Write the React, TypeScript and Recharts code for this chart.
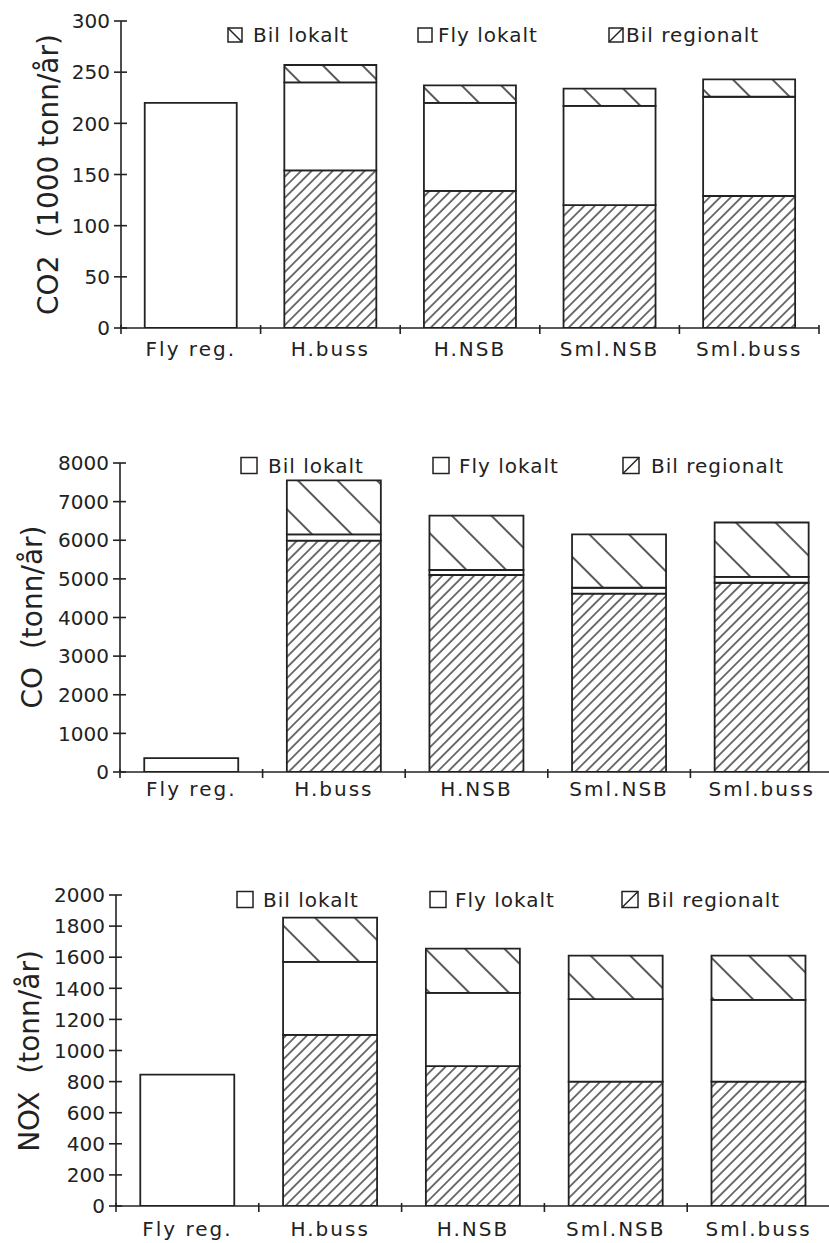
import React from 'react';
import { BarChart, Bar, XAxis, YAxis } from 'recharts';

const INK = '#222';
const FONT = '"DejaVu Sans", "Noto Sans", sans-serif';

// ---------- data ----------
const categories = ['Fly reg.', 'H.buss', 'H.NSB', 'Sml.NSB', 'Sml.buss'];
const legendLabels = ['Bil lokalt', 'Fly lokalt', 'Bil regionalt'];

const co2FlyRegionalt = [220, null, null, null, null];
const co2BilRegionalt = [null, 154, 134, 120, 129];
const co2FlyLokalt = [null, 86, 86, 97, 97];
const co2BilLokalt = [null, 17, 17, 17, 17];
const co2Ticks = [0, 50, 100, 150, 200, 250, 300];
const co2Title = 'CO2  (1000 tonn/år)';

const coFlyRegionalt = [360, null, null, null, null];
const coBilRegionalt = [null, 5990, 5100, 4620, 4900];
const coFlyLokalt = [null, 160, 130, 150, 150];
const coBilLokalt = [null, 1400, 1405, 1380, 1410];
const coTicks = [0, 1000, 2000, 3000, 4000, 5000, 6000, 7000, 8000];
const coTitle = 'CO  (tonn/år)';

const noxFlyRegionalt = [845, null, null, null, null];
const noxBilRegionalt = [null, 1100, 900, 800, 800];
const noxFlyLokalt = [null, 470, 470, 530, 525];
const noxBilLokalt = [null, 285, 285, 280, 285];
const noxTicks = [0, 200, 400, 600, 800, 1000, 1200, 1400, 1600, 1800, 2000];
const noxTitle = 'NOX  (tonn/år)';

const buildRows = (fr: any[], br: any[], fl: any[], bl: any[]) =>
  categories.map((name, i) => ({
    name,
    flyRegionalt: fr[i],
    bilRegionalt: br[i],
    flyLokalt: fl[i],
    bilLokalt: bl[i],
  }));

const co2Rows = buildRows(co2FlyRegionalt, co2BilRegionalt, co2FlyLokalt, co2BilLokalt);
const coRows = buildRows(coFlyRegionalt, coBilRegionalt, coFlyLokalt, coBilLokalt);
const noxRows = buildRows(noxFlyRegionalt, noxBilRegionalt, noxFlyLokalt, noxBilLokalt);

// ---------- layout ----------
const panels = [
  {
    rows: co2Rows, ticks: co2Ticks, title: co2Title,
    top: 0, width: 829, height: 380, yAxisWidth: 121, xAxisHeight: 40,
    margin: { top: 21, right: 10, left: 0, bottom: 12 },
    labelOffset: 21,
    titleX: 48, titleY: 174.5,
    legendY: 35, iconSize: 14,
    iconX: [228, 418, 609], textX: [253, 438, 626],
    iconKinds: ['back', 'none', 'slash'],
  },
  {
    rows: coRows, ticks: coTicks, title: coTitle,
    top: 440, width: 840, height: 400, yAxisWidth: 120, xAxisHeight: 40,
    margin: { top: 23, right: 7, left: 0, bottom: 28 },
    labelOffset: 17,
    titleX: 32, titleY: 617,
    legendY: 465.5, iconSize: 16,
    iconX: [241, 433, 623], textX: [268, 459, 651],
    iconKinds: ['none', 'none', 'slash'],
  },
  {
    rows: noxRows, ticks: noxTicks, title: noxTitle,
    top: 860, width: 840, height: 383, yAxisWidth: 116, xAxisHeight: 30,
    margin: { top: 35, right: 10, left: 0, bottom: 7 },
    labelOffset: 23,
    titleX: 29, titleY: 1051,
    legendY: 899.5, iconSize: 16,
    iconX: [237, 430, 622], textX: [263, 455, 647],
    iconKinds: ['none', 'none', 'slash'],
  },
];

// ---------- ticks ----------
const renderYTick = (props: any) => {
  const { x, y, payload } = props;
  return (
    <g>
      <line x1={x - 7} x2={x + 6} y1={y} y2={y} stroke={INK} strokeWidth={1.6} />
      <text x={x - 11} y={y} dy="0.36em" textAnchor="end" fontSize={20}
        fontFamily={FONT} fill={INK}>{payload.value}</text>
    </g>
  );
};

const makeXTick = (labelOffset: number, halfBand: number) => (props: any) => {
  const { x, y, payload, index } = props;
  const idx = typeof index === 'number' ? index : categories.indexOf(payload.value);
  return (
    <g>
      {idx === 0 && (
        <line x1={x - halfBand} x2={x - halfBand} y1={y - 3} y2={y + 6} stroke={INK} strokeWidth={1.6} />
      )}
      <line x1={x + halfBand} x2={x + halfBand} y1={y - 3} y2={y + 6} stroke={INK} strokeWidth={1.6} />
      <text x={x} y={y + labelOffset} dy="0.36em" textAnchor="middle" fontSize={20}
        fontFamily={FONT} fill={INK} letterSpacing={2}>
        {payload.value}
      </text>
    </g>
  );
};

const Patterns = () => (
  <svg width={0} height={0} style={{ position: 'absolute' }}>
    <defs>
      <pattern id="hatchFine" patternUnits="userSpaceOnUse" width={7.5} height={7.5}
        patternTransform="rotate(45)">
        <rect width={7.5} height={7.5} fill="#fff" />
        <line x1={3.75} y1={-1} x2={3.75} y2={8.5} stroke="#444" strokeWidth={1.5} />
      </pattern>
      <pattern id="hatchCoarse" patternUnits="userSpaceOnUse" width={28} height={28}
        patternTransform="rotate(-45)">
        <rect width={28} height={28} fill="#fff" />
        <line x1={14} y1={-1} x2={14} y2={29} stroke={INK} strokeWidth={1.5} />
      </pattern>
    </defs>
  </svg>
);

const LegendIcon = ({ x, cy, size, kind }: any) => {
  const y = cy - size / 2;
  return (
    <g>
      <rect x={x} y={y} width={size} height={size} fill="#fff" stroke={INK} strokeWidth={1.5} />
      {kind === 'back' && <line x1={x} y1={y} x2={x + size} y2={y + size} stroke={INK} strokeWidth={1.5} />}
      {kind === 'slash' && <line x1={x} y1={y + size} x2={x + size} y2={y} stroke={INK} strokeWidth={1.5} />}
    </g>
  );
};

const Panel = ({ p }: any) => {
  const yMax = p.ticks[p.ticks.length - 1];
  const plotWidth = p.width - p.margin.left - p.margin.right - p.yAxisWidth;
  const halfBand = plotWidth / categories.length / 2;
  const barProps = { stackId: 's', stroke: INK, strokeWidth: 1.8, isAnimationActive: false };
  return (
    <div style={{ position: 'absolute', left: 0, top: p.top, width: p.width, height: p.height }}>
      <BarChart width={p.width} height={p.height} data={p.rows} margin={p.margin} barCategoryGap="17%">
        <XAxis dataKey="name" type="category" interval={0} tick={makeXTick(p.labelOffset, halfBand)}
          tickLine={false} tickSize={0} tickMargin={0} height={p.xAxisHeight}
          axisLine={{ stroke: INK, strokeWidth: 1.6 }} />
        <YAxis type="number" domain={[0, yMax]} allowDataOverflow ticks={p.ticks} interval={0}
          width={p.yAxisWidth} tick={renderYTick} tickLine={false} tickSize={0} tickMargin={0}
          axisLine={{ stroke: INK, strokeWidth: 1.6 }} />
        <Bar dataKey="flyRegionalt" fill="#fff" {...barProps} />
        <Bar dataKey="bilRegionalt" fill="url(#hatchFine)" {...barProps} />
        <Bar dataKey="flyLokalt" fill="#fff" {...barProps} />
        <Bar dataKey="bilLokalt" fill="url(#hatchCoarse)" {...barProps} />
      </BarChart>
    </div>
  );
};

export default function App() {
  return (
    <div style={{ position: 'absolute', left: 0, top: 0, width: 829, height: 1243, overflow: 'hidden', background: '#fff' }}>
      <Patterns />
      {panels.map((p, i) => <Panel key={i} p={p} />)}
      <svg width={829} height={1243} style={{ position: 'absolute', left: 0, top: 0, pointerEvents: 'none' }}>
        {panels.map((p, i) => (
          <g key={i}>
            <text transform={`translate(${p.titleX},${p.titleY}) rotate(-90)`} dy="0.36em"
              textAnchor="middle" fontSize={28} fontFamily={FONT} fill={INK}
              style={{ whiteSpace: 'pre' }}>{p.title}</text>
            {legendLabels.map((lab, j) => (
              <g key={j}>
                <LegendIcon x={p.iconX[j]} cy={p.legendY} size={p.iconSize} kind={p.iconKinds[j]} />
                <text x={p.textX[j]} y={p.legendY} dy="0.36em" fontSize={20} fontFamily={FONT}
                  fill={INK} letterSpacing={1}>{lab}</text>
              </g>
            ))}
          </g>
        ))}
      </svg>
    </div>
  );
}
